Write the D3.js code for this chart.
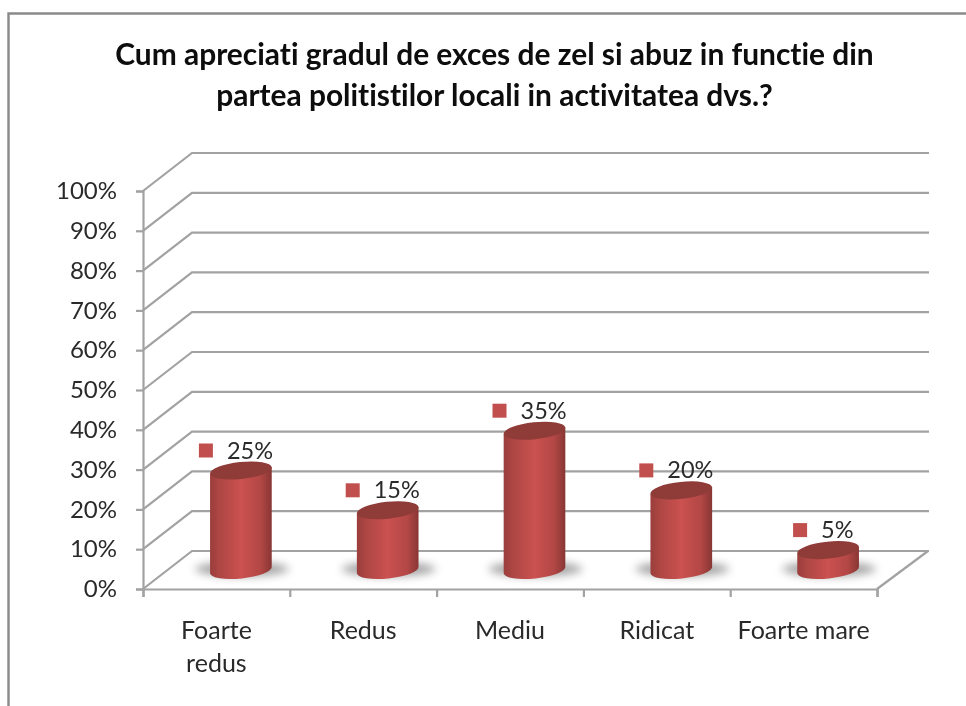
<!DOCTYPE html>
<html><head><meta charset="utf-8">
<script src="https://cdnjs.cloudflare.com/ajax/libs/d3/7.8.5/d3.min.js"></script>
<style>html,body{margin:0;background:#fff}svg{display:block}text{font-family:Lato,"Open Sans",sans-serif;font-variant-ligatures:none}</style>
</head><body><svg id="c" width="966" height="706"></svg>
<script>
const titleLines=["Cum apreciati gradul de exces de zel si abuz in functie din","partea politistilor locali in activitatea dvs.?"];
const categories=["Foarte redus","Redus","Mediu","Ridicat","Foarte mare"];
const categoryLines=[["Foarte","redus"],["Redus"],["Mediu"],["Ridicat"],["Foarte mare"]];
const values=[25,15,35,20,5];
const tickValues=[0,10,20,30,40,50,60,70,80,90,100];

const svg=d3.select("#c");
const defs=svg.append("defs");
const x=d3.scaleBand().domain(categories).range([143,877]);
const y=d3.scaleLinear().domain([0,100]).range([589,191]);
const depthX=49,depthY=38,baseUp=19,cylRx=31,cylRy=8.5,tilt=-6;

const grad=defs.append("linearGradient").attr("id","body");
[[0,"#9a3e3c"],[.15,"#ad4644"],[.5,"#cb5250"],[.82,"#b24745"],[1,"#883634"]]
 .forEach(d=>grad.append("stop").attr("offset",d[0]).attr("stop-color",d[1]));
defs.append("filter").attr("id","blur").attr("x","-30%").attr("y","-60%").attr("width","160%").attr("height","220%")
 .append("feGaussianBlur").attr("stdDeviation",4);
defs.append("filter").attr("id","soft").attr("filterUnits","userSpaceOnUse").attr("x",0).attr("y",0).attr("width",966).attr("height",706)
 .append("feGaussianBlur").attr("stdDeviation",0.45);

const root=svg.append("g").attr("filter","url(#soft)");
root.append("rect").attr("width",966).attr("height",706).attr("fill","#fff");

// frame
root.append("path").attr("d","M8.5,706V13.5H966").attr("fill","none").attr("stroke","#8a8a8a").attr("stroke-width",2.4);

// title
root.selectAll("text.title").data(titleLines).join("text").attr("class","title")
 .attr("x",494.5).attr("y",(d,i)=>65+i*41).attr("text-anchor","middle")
 .attr("font-size",29.9).attr("font-weight",700).attr("fill","#0a0a0a").text(d=>d);

// gridlines
const grid="#a2a2a2";
const g=root.append("g").attr("fill","none").attr("stroke",grid).attr("stroke-width",2.2);
g.selectAll("path").data(tickValues).join("path")
 .attr("d",v=>d3.line()([[x.range()[0],y(v)],[x.range()[0]+depthX,y(v)-depthY],[x.range()[1]+depthX+3,y(v)-depthY]]));
g.append("path").attr("d",d3.line()([[x.range()[1],y(0)],[x.range()[1]+depthX+2,y(0)-depthY]]));

// axes
const yAxis=d3.axisLeft(y).tickValues(tickValues).tickFormat(d=>d+"%").tickSize(7).tickPadding(19);
const ya=root.append("g").attr("transform","translate(143,0)").call(yAxis);
ya.selectAll("text").attr("font-size",24).attr("fill","#2a2a2a");
const xTicks=d3.range(categories.length+1).map(i=>x.range()[0]+i*x.step());
const xLin=d3.scaleLinear().domain(x.range()).range(x.range());
const xa=root.append("g").attr("transform",`translate(0,${y(0)})`)
 .call(d3.axisBottom(xLin).tickValues(xTicks).tickFormat("").tickSize(8));
root.selectAll(".domain,.tick line").attr("stroke",grid).attr("stroke-width",2.2);

root.selectAll("g.cat").data(categories).join("g").attr("class","cat")
 .attr("transform",d=>`translate(${x(d)+x.bandwidth()/2},0)`)
 .selectAll("text").data((d,i)=>categoryLines[i]).join("text")
 .attr("y",(d,i)=>639+i*33).attr("text-anchor","middle").attr("font-size",25).attr("fill","#2a2a2a").text(d=>d);

// cylinders
const cx=d=>x(d)+x.bandwidth()/2+depthX/2;
const bars=root.selectAll("g.bar").data(categories).join("g").attr("class","bar");
bars.append("ellipse").attr("cx",d=>cx(d)+1).attr("cy",y(0)-baseUp-1).attr("rx",cylRx+16).attr("ry",cylRy-1)
 .attr("fill","#808080").attr("opacity",.7).attr("filter","url(#blur)");
const dxT=cylRx*Math.cos(tilt*Math.PI/180), dyT=cylRx*Math.sin(tilt*Math.PI/180);
bars.append("path").attr("fill","url(#body)").attr("d",(d,i)=>{
  const b=y(0)-baseUp, t=y(values[i])-baseUp, c=cx(d);
  return `M${c-dxT},${t-dyT}L${c-dxT},${b-dyT}A${cylRx},${cylRy} ${tilt} 0 0 ${c+dxT},${b+dyT}L${c+dxT},${t+dyT}Z`;
});
bars.append("ellipse").attr("fill","#8f3b39")
 .attr("rx",cylRx).attr("ry",cylRy)
 .attr("transform",(d,i)=>`translate(${cx(d)},${y(values[i])-baseUp}) rotate(${tilt})`);

// data labels
const labelNudge=[0,0,0,0,7];
const lab=root.selectAll("g.lab").data(categories).join("g").attr("class","lab")
 .attr("transform",(d,i)=>`translate(${cx(d)-35+labelNudge[i]},${y(values[i])-depthY})`);
lab.append("rect").attr("x",-7).attr("y",-8).attr("width",14).attr("height",14).attr("fill","#c0504d");
lab.append("text").attr("x",21).attr("y",7).attr("font-size",23.5).attr("fill","#2a2a2a").text((d,i)=>values[i]+"%");
</script></body></html>
